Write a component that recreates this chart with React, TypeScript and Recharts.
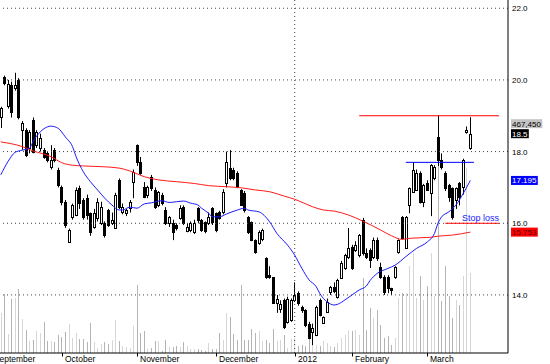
import React from "react";
import {
  ComposedChart,
  Bar,
  Line,
  XAxis,
  YAxis,
  ReferenceLine,
} from "recharts";

// daily OHLC, Sep 2011 -> mid March 2012
const opens = [
  18.96, 20.08, 19.3, 19.85, 19.78, 20.0, 18.6, 18.6, 18.1, 18.88,
  18.18, 18.1, 18.04, 17.95, 17.57, 18.04, 17.49, 17.0, 16.59, 15.48,
  16.17, 16.23, 16.98, 16.65, 16.7, 16.28, 15.9, 16.14, 16.0, 16.0,
  16.37, 16.0, 15.87, 17.21, 16.31, 16.3, 16.42, 17.15, 18.18, 17.7,
  17.0, 16.79, 17.3, 16.93, 16.5, 16.79, 16.37, 16.0, 16.0, 15.95,
  16.15, 16.45, 15.78, 15.8, 15.76, 16.42, 16.09, 16.03, 16.0, 16.42,
  16.28, 16.31, 16.31, 17.12, 17.55, 17.49, 17.4, 16.93, 16.85, 16.17,
  16.03, 15.53, 15.45, 15.55, 15.03, 14.55, 14.5, 13.8, 13.6, 13.86,
  13.25, 13.3, 13.86, 14.05, 13.65, 13.58, 13.2, 12.96, 12.88, 13.86,
  13.21, 13.52, 14.08, 14.22, 13.94, 14.47, 14.75, 15.06, 15.34, 15.25,
  15.11, 16.09, 15.17, 15.25, 15.06, 15.53, 14.78, 14.5, 14.5, 14.2,
  14.5, 15.2, 16.17, 15.31, 16.51, 16.87, 16.93, 17.4, 16.6, 17.12,
  16.85, 17.26, 18.4, 17.76, 17.4, 17.07, 16.98, 16.65, 17.12, 17.01,
  18.55, 18.1,
];
const highs = [
  19.25, 20.12, 20.0, 19.95, 20.2, 20.05, 18.85, 18.65, 18.6, 18.95,
  18.6, 18.5, 18.1, 18.0, 18.18, 18.1, 17.55, 17.05, 16.65, 15.85,
  16.55, 17.0, 17.05, 16.7, 16.8, 16.3, 16.4, 16.7, 16.6, 16.05,
  16.4, 16.3, 16.85, 17.25, 16.55, 16.4, 16.65, 17.5, 18.2, 17.85,
  17.15, 17.05, 17.35, 17.0, 16.9, 16.85, 16.45, 16.2, 16.1, 16.0,
  16.5, 16.5, 16.0, 16.05, 16.1, 16.45, 16.12, 16.05, 16.3, 16.45,
  16.3, 16.35, 16.95, 18.0, 18.04, 17.55, 17.45, 16.95, 16.9, 16.2,
  16.05, 15.55, 15.8, 15.85, 15.05, 14.8, 14.5, 14.0, 13.85, 13.9,
  13.95, 13.9, 14.35, 14.1, 13.7, 13.6, 13.25, 13.2, 13.7, 13.9,
  13.4, 13.9, 14.25, 14.35, 14.45, 14.95, 15.15, 15.87, 15.4, 15.5,
  15.7, 16.15, 15.3, 15.3, 15.6, 15.6, 14.9, 14.55, 14.55, 14.2,
  14.8, 15.55, 16.2, 16.2, 17.0, 17.7, 17.5, 17.45, 17.1, 17.2,
  17.65, 17.62, 19.0, 17.95, 17.45, 17.1, 17.0, 17.0, 17.15, 17.8,
  18.7, 18.96,
];
const lows = [
  18.66, 19.85, 19.2, 18.95, 19.7, 18.9, 18.05, 17.85, 17.95, 17.95,
  18.1, 18.0, 17.8, 17.7, 17.5, 17.7, 17.0, 16.5, 15.87, 15.45,
  16.1, 16.2, 16.4, 16.1, 16.1, 15.65, 15.85, 16.05, 15.95, 15.6,
  15.9, 15.95, 15.85, 16.4, 16.25, 16.2, 16.3, 16.7, 17.6, 17.35,
  16.7, 16.7, 16.9, 16.4, 16.45, 16.5, 15.95, 15.9, 15.53, 15.8,
  16.1, 15.95, 15.75, 15.75, 15.7, 16.0, 15.76, 15.72, 15.95, 15.95,
  15.75, 16.1, 16.25, 17.0, 17.2, 17.2, 16.98, 16.5, 16.3, 15.7,
  15.5, 15.15, 15.4, 15.5, 14.45, 14.45, 13.75, 13.5, 13.5, 13.05,
  13.2, 13.25, 13.8, 13.7, 13.5, 13.1, 12.76, 12.6, 12.85, 13.4,
  13.2, 13.5, 14.0, 14.05, 13.9, 14.45, 14.7, 15.0, 14.7, 15.2,
  15.05, 15.1, 15.0, 14.75, 15.0, 14.95, 14.45, 14.0, 14.05, 14.0,
  14.45, 15.15, 15.55, 15.3, 16.28, 16.85, 16.9, 16.55, 16.45, 16.9,
  16.2, 17.2, 17.6, 17.5, 16.9, 16.6, 16.1, 16.4, 16.5, 16.8,
  18.5, 18.05,
];
const closes = [
  19.22, 19.91, 19.9, 19.1, 19.85, 18.97, 18.8, 17.9, 18.55, 18.0,
  18.55, 18.38, 17.85, 17.76, 17.76, 17.76, 17.07, 16.59, 15.95, 15.81,
  16.51, 16.93, 16.56, 16.17, 16.23, 15.75, 16.28, 16.59, 16.45, 15.67,
  15.95, 16.09, 16.79, 16.45, 16.45, 16.37, 16.59, 17.43, 17.7, 17.4,
  16.73, 17.0, 16.98, 16.45, 16.87, 16.56, 16.0, 16.17, 15.75, 15.87,
  16.42, 16.0, 15.9, 16.0, 16.02, 16.09, 15.81, 15.78, 16.17, 16.03,
  15.81, 16.14, 16.87, 17.71, 17.26, 17.26, 17.01, 16.51, 16.37, 15.75,
  15.53, 15.2, 15.76, 15.8, 14.5, 14.5, 13.77, 13.9, 13.75, 13.1,
  13.9, 13.86, 14.0, 13.77, 13.58, 13.16, 12.82, 13.08, 13.66, 13.44,
  13.38, 13.8, 14.22, 14.1, 14.42, 14.89, 15.11, 15.31, 14.75, 15.39,
  15.67, 15.17, 15.06, 14.97, 15.53, 15.03, 14.5, 14.08, 14.2, 14.14,
  14.78, 15.53, 15.59, 16.17, 16.98, 17.49, 17.4, 16.59, 17.07, 16.93,
  17.62, 17.57, 17.76, 17.57, 16.98, 16.73, 16.17, 16.98, 16.73, 17.76,
  18.6, 18.5,
];
// volume, thousands of shares
const volumes = [
  234, 345, 111, 316, 321, 374, 199, 134, 70, 76,
  129, 117, 181, 70, 70, 64, 105, 93, 123, 169,
  88, 117, 82, 82, 64, 175, 64, 29, 53, 64,
  53, 76, 193, 70, 41, 35, 29, 158, 397, 117,
  129, 23, 29, 70, 70, 12, 76, 35, 35, 41,
  35, 64, 41, 23, 23, 23, 18, 12, 58, 23,
  23, 117, 76, 234, 210, 111, 76, 397, 76, 76,
  140, 117, 129, 70, 76, 58, 140, 70, 76, 105,
  29, 82, 88, 41, 47, 41, 76, 76, 47, 41,
  70, 58, 41, 35, 58, 88, 105, 134, 129, 134,
  105, 438, 134, 263, 205, 251, 164, 88, 99, 47,
  88, 321, 351, 351, 508, 584, 321, 450, 310, 391,
  584, 333, 1391, 304, 508, 333, 205, 310, 280, 450,
  1081, 467.45,
];

// moving averages: [bar index, value]
const blueMA: [number, number][] = [
  [0, 17.35], [2, 17.72], [4, 17.98], [6, 18.04], [8, 18.09], [9, 18.28],
  [11, 18.55], [13, 18.69], [14, 18.71], [16, 18.65], [18, 18.41], [20, 18.14],
  [21, 17.86], [23, 17.44], [25, 17.16], [27, 16.93], [29, 16.7], [31, 16.51],
  [33, 16.37], [34, 16.37], [36, 16.45], [38, 16.42], [40, 16.54], [42, 16.57],
  [45, 16.63], [47, 16.58], [49, 16.6], [51, 16.62], [53, 16.56], [55, 16.51],
  [56, 16.42], [58, 16.28], [59, 16.18], [61, 16.18], [63, 16.26], [66, 16.37],
  [68, 16.42], [69, 16.37], [72, 16.32], [75, 16.04], [77, 15.72], [80, 15.39],
  [82, 15.11], [84, 14.74], [86, 14.42], [88, 14.23], [89, 14.04], [91, 13.81],
  [93, 13.72], [94, 13.74], [96, 13.86], [98, 14.0], [100, 14.14], [102, 14.25],
  [103, 14.4], [105, 14.6], [108, 14.74], [110, 14.83], [113, 15.07], [116, 15.3],
  [119, 15.48], [121, 15.72], [122, 16.01], [123, 16.18], [125, 16.32], [127, 16.51],
  [129, 16.83], [131, 17.195],
];
const redMA: [number, number][] = [
  [0, 18.27], [6, 18.14], [9, 18.02], [14, 17.86], [17, 17.69], [20, 17.62],
  [23, 17.6], [28, 17.58], [33, 17.54], [36, 17.46], [40, 17.3], [44, 17.21],
  [49, 17.16], [54, 17.11], [58, 17.05], [63, 17.02], [67, 16.99], [71, 16.93],
  [75, 16.88], [79, 16.76], [82, 16.67], [87, 16.46], [90, 16.37], [93, 16.34],
  [97, 16.23], [101, 16.06], [106, 15.81], [109, 15.65], [112, 15.55], [114, 15.58],
  [120, 15.61], [122, 15.64], [126, 15.67], [131, 15.753],
];

const monthTicks = [0, 17, 38, 60, 82, 98, 119];
const monthLabels = ["September", "October", "November", "December", "2012", "February", "March"];
const priceTicks = [14, 16, 18, 20, 22];

const resistance = 19.0;
const breakout = 17.7;
const stopLoss = 16.0;

const SLOTS = 142;
const FONT = "'Liberation Sans', Arial, sans-serif";

const rows = Array.from({ length: SLOTS }, (_, i) => {
  const row: any = { i };
  if (i < closes.length) {
    row.o = opens[i];
    row.h = highs[i];
    row.l = lows[i];
    row.c = closes[i];
    row.range = [lows[i], highs[i]];
    row.vol = volumes[i];
  }
  return row;
});
blueMA.forEach(([i, v]) => (rows[i].blue = v));
redMA.forEach(([i, v]) => (rows[i].red = v));

function Candle(props: any) {
  const { x, y, width, height, payload } = props;
  if (payload == null || payload.h == null) return null;
  const cx = Math.round(x + width / 2) + 0.5;
  const span = payload.h - payload.l || 1;
  const toY = (v: number) => y + ((payload.h - v) / span) * height;
  const yo = toY(payload.o);
  const yc = toY(payload.c);
  const top = Math.round(Math.min(yo, yc)) + 0.5;
  const bh = Math.max(Math.round(Math.abs(yc - yo)), 1);
  const up = payload.c >= payload.o;
  return (
    <g>
      <line x1={cx} x2={cx} y1={y} y2={y + height} stroke="#000" strokeWidth={1} />
      <rect x={cx - 1} y={top} width={2} height={bh} fill={up ? "#fff" : "#000"} stroke="#000" strokeWidth={1} />
    </g>
  );
}

function VolBar(props: any) {
  const { x, y, width, height, payload } = props;
  if (!height || height <= 0 || payload == null) return null;
  const cx = Math.round(x + width / 2);
  const fill = payload.c >= payload.o ? "#d6d6d6" : "#b4b4b4";
  return <rect x={cx} y={y} width={1} height={height} fill={fill} />;
}

function MonthTick(props: any) {
  const { x, y, payload } = props;
  const k = monthTicks.indexOf(payload.value);
  if (k < 0) return null;
  if (k === 0) {
    return (
      <text x={x - 7} y={y + 9} fontSize={8.5} fontFamily={FONT} fill="#000">
        {monthLabels[k]}
      </text>
    );
  }
  const tx = Math.round(x) + 0.5;
  return (
    <g>
      <line x1={tx} x2={tx} y1={y} y2={y + 3.5} stroke="#000" />
      <text x={tx + 2.5} y={y + 9} fontSize={8.5} fontFamily={FONT} fill="#000">
        {monthLabels[k]}
      </text>
    </g>
  );
}

function PriceTick(props: any) {
  const { x, y, payload } = props;
  return (
    <text x={x} y={y + 3} fontSize={8} fontFamily={FONT} fill="#000">
      {payload.value.toFixed(1)}
    </text>
  );
}

function Tag(props: any) {
  const { viewBox, text, bg, fg, dy = 0 } = props;
  if (!viewBox) return null;
  const x = viewBox.x + viewBox.width + 3;
  const cy = viewBox.y + dy;
  const digits = text.replace(/[.,]/g, "").length;
  const w = digits * 4.5 + (text.length - digits) * 2.3 + 2;
  return (
    <g>
      <rect x={x} y={cy - 4.5} width={w} height={9} fill={bg} />
      <text x={x + 1} y={cy + 3} fontSize={8} fontFamily={FONT} fill={fg}>
        {text}
      </text>
    </g>
  );
}

function StopText(props: any) {
  const { viewBox } = props;
  if (!viewBox) return null;
  return (
    <text x={viewBox.x + viewBox.width} y={viewBox.y - 2} textAnchor="end" fontSize={9} fontFamily={FONT} fill="#1a1aff">
      Stop loss
    </text>
  );
}

export default function App() {
  const last = closes.length - 1;
  return (
    <div style={{ position: "absolute", left: 0, top: 0, width: 550, height: 364, background: "#fff" }}>
      <ComposedChart width={550} height={364} data={rows} margin={{ top: 0, right: 0, bottom: 0, left: -1 }}>
        <XAxis
          dataKey="i"
          type="category"
          ticks={monthTicks}
          interval={0}
          height={11}
          tickSize={0}
          tickMargin={0}
          tickLine={false}
          axisLine={{ stroke: "#000" }}
          tick={<MonthTick />}
        />
        <XAxis xAxisId="v" dataKey="i" type="category" hide />
        <YAxis
          yAxisId="p"
          orientation="right"
          type="number"
          width={42}
          domain={[12.38, 22.23]}
          allowDataOverflow
          ticks={priceTicks}
          interval={0}
          tickSize={0}
          tickMargin={4}
          tickLine={false}
          axisLine={{ stroke: "#000" }}
          tick={<PriceTick />}
        />
        <YAxis yAxisId="v" type="number" domain={[0, 2062]} allowDataOverflow hide />

        <Bar dataKey="vol" xAxisId="v" yAxisId="v" barSize={1} shape={<VolBar />} activeBar={false} isAnimationActive={false} />

        {priceTicks.map((t) => (
          <ReferenceLine key={t} yAxisId="p" y={t} stroke="#444" strokeDasharray="1 3" />
        ))}
        <ReferenceLine yAxisId="p" x={monthTicks[4]} stroke="#444" strokeDasharray="1 3" />

        <ReferenceLine
          yAxisId="p"
          segment={[{ x: 100, y: resistance }, { x: 139, y: resistance }]}
          stroke="#ff0000"
        />
        <ReferenceLine
          yAxisId="p"
          segment={[{ x: 113, y: breakout }, { x: 132, y: breakout }]}
          stroke="#0000ff"
        />
        <ReferenceLine
          yAxisId="p"
          segment={[{ x: 124, y: stopLoss }, { x: 139, y: stopLoss }]}
          stroke="#ff0000"
          label={<StopText />}
        />

        <Line yAxisId="p" dataKey="red" type="monotone" stroke="#ff1a1a" strokeWidth={1} dot={false} activeDot={false} connectNulls isAnimationActive={false} />
        <Line yAxisId="p" dataKey="blue" type="monotone" stroke="#1a1aff" strokeWidth={1} dot={false} activeDot={false} connectNulls isAnimationActive={false} />

        <Bar dataKey="range" yAxisId="p" barSize={3} shape={<Candle />} activeBar={false} isAnimationActive={false} />

        <ReferenceLine
          yAxisId="p"
          y={closes[last]}
          stroke="none"
          label={<Tag text={(volumes[last] * 1000).toLocaleString("en-US")} bg="#c4c4c4" fg="#000" dy={-10} />}
        />
        <ReferenceLine yAxisId="p" y={closes[last]} stroke="none" label={<Tag text={closes[last].toFixed(1)} bg="#000" fg="#fff" />} />
        <ReferenceLine
          yAxisId="p"
          y={blueMA[blueMA.length - 1][1]}
          stroke="none"
          label={<Tag text={blueMA[blueMA.length - 1][1].toFixed(3)} bg="#0000ff" fg="#fff" />}
        />
        <ReferenceLine
          yAxisId="p"
          y={redMA[redMA.length - 1][1]}
          stroke="none"
          label={<Tag text={redMA[redMA.length - 1][1].toFixed(3)} bg="#ff0000" fg="#600000" />}
        />
      </ComposedChart>
    </div>
  );
}
